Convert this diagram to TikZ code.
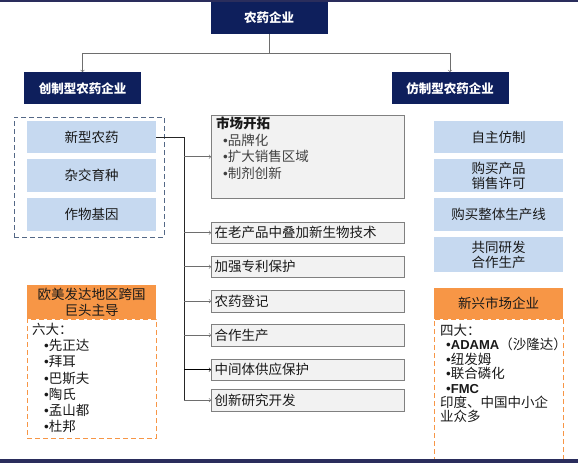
\documentclass[tikz,border=0pt]{standalone}
\usepackage{fontspec}
\setmainfont{Noto Sans CJK SC}
\newfontfamily\latinfont{Liberation Sans}
\usepackage{xcolor}
\usepackage{tikz}
\usetikzlibrary{positioning}

\definecolor{navy}{RGB}{14,31,92}
\definecolor{bandnavy}{RGB}{42,45,92}
\definecolor{paleblue}{RGB}{198,217,240}
\definecolor{boxgray}{RGB}{242,242,242}
\definecolor{edgegray}{RGB}{128,128,128}
\definecolor{linegray}{RGB}{110,110,110}
\definecolor{accentorange}{RGB}{247,150,70}
\definecolor{dashblue}{RGB}{84,104,134}
\definecolor{inkgray}{RGB}{25,25,25}

\newcommand{\sizeat}[2]{\fontsize{#1}{#2}\selectfont}
\newcommand{\dotmark}{{\latinfont•}}

\tikzset{
  navybox/.style={fill=navy, text=white, font=\bfseries\sizeat{12.5}{15},
    minimum width=117pt, minimum height=33pt, inner sep=0pt},
  bluebox/.style={fill=paleblue, text=inkgray, font=\sizeat{13.5}{15},
    minimum width=129pt, align=center, inner sep=0pt, anchor=north west},
  graybox/.style={draw=edgegray, fill=boxgray, text=inkgray, font=\sizeat{13.5}{16},
    minimum width=193pt, text width=186pt, align=left, inner xsep=3.5pt,
    inner ysep=0pt, anchor=north west},
  orangehead/.style={fill=accentorange, text=inkgray, font=\sizeat{13.5}{16},
    minimum width=129pt, align=center, inner sep=0pt, anchor=north west},
  orangedash/.style={draw=accentorange, dash pattern=on 5pt off 3pt,
    minimum width=129pt, inner sep=0pt, anchor=north west},
  listtext/.style={text=inkgray, align=left, inner sep=0pt, anchor=north west},
  conn/.style={draw=linegray, line width=0.6pt},
  branch/.style={draw=linegray, line width=0.6pt, ->},
}

\begin{document}
\begin{tikzpicture}[x=1pt, y=-1pt]
\useasboundingbox (0,0) rectangle (578,463);

% Top level
\node[navybox, minimum height=34pt, anchor=north] (pesticide) at (269,0) {农药企业};
\node[navybox, minimum height=32pt, anchor=north] (original) at (82.5,72) {创制型农药企业};
\node[navybox, minimum height=32pt, anchor=north] (generic) at (450,72) {仿制型农药企业};

\draw[conn, ->] (pesticide.south) -- ++(0,19) -| (original.north);
\draw[conn, ->] (pesticide.south) -- ++(0,19) -| (generic.north);

% Innovation fields
\node[draw=dashblue, dash pattern=on 5pt off 3pt, minimum width=150pt, minimum height=120pt,
  inner sep=0pt, anchor=north west] (fieldbox) at (14,117) {};
\node[bluebox, minimum height=32pt] (newdrug) at (27,121) {新型农药};
\node[bluebox, minimum height=33pt] (hybrid) at (27,159) {杂交育种};
\node[bluebox, minimum height=33pt] (gene) at (27,198) {作物基因};

% Strategies
\node[graybox, minimum height=83pt] (market) at (211,115) {};
\node[listtext, font=\sizeat{13.5}{16.5}] (markettext) at (216,117)
  {\textbf{市场开拓}\\
   {\color{black!75}\hspace*{7pt}\dotmark 品牌化}\\
   {\color{black!75}\hspace*{7pt}\dotmark 扩大销售区域}\\
   {\color{black!75}\hspace*{7pt}\dotmark 制剂创新}};
\node[graybox, minimum height=21pt] (biotech) at (211,222) {在老产品中叠加新生物技术};
\node[graybox, minimum height=21pt] (patent) at (211,256) {加强专利保护};
\node[graybox, minimum height=22pt] (register) at (211,290) {农药登记};
\node[graybox, minimum height=22pt] (coprod) at (211,324) {合作生产};
\node[graybox, minimum height=21pt] (supply) at (211,359) {中间体供应保护};
\node[graybox, minimum height=22pt] (research) at (211,389) {创新研究开发};

\coordinate (trunkend) at (184,400);
\draw[draw=black!85, line width=1pt] (newdrug.east) -| (trunkend);
\draw[branch] (trunkend |- market.west) -- (market.west);
\draw[branch] (trunkend |- biotech.west) -- (biotech.west);
\draw[branch] (trunkend |- patent.west) -- (patent.west);
\draw[branch] (trunkend |- register.west) -- (register.west);
\draw[branch] (trunkend |- coprod.west) -- (coprod.west);
\draw[branch, draw=black] (trunkend |- supply.west) -- (supply.west);
\draw[branch] (trunkend |- research.west) -- (research.west);

% Generic routes
\node[bluebox, minimum height=32pt] (selfcopy) at (434,121) {自主仿制};
\node[bluebox, minimum height=33pt] (license) at (434,159) {购买产品\\销售许可};
\node[bluebox, minimum height=33pt] (line) at (434,198) {购买整体生产线};
\node[bluebox, minimum height=35pt] (joint) at (434,237) {共同研发\\合作生产};

% Leading companies
\node[orangehead, minimum height=34pt] (westhead) at (27,285) {欧美发达地区跨国\\巨头主导};
\node[orangedash, minimum height=119pt] (westbox) at (27,319) {};
\node[listtext, font=\sizeat{13.5}{16.2}] (westlist) at (32,323)
  {六大：\\
   \hspace*{12pt}\dotmark 先正达\\
   \hspace*{12pt}\dotmark 拜耳\\
   \hspace*{12pt}\dotmark 巴斯夫\\
   \hspace*{12pt}\dotmark 陶氏\\
   \hspace*{12pt}\dotmark 孟山都\\
   \hspace*{12pt}\dotmark 杜邦};

\node[orangehead, minimum height=31pt] (emerghead) at (434,288) {新兴市场企业};
\node[orangedash, minimum height=140pt] (emergbox) at (434,319) {};
\node[listtext, font=\sizeat{13.5}{14.4}] (emerglist) at (440,324)
  {四大：\\
   \hspace*{6pt}\dotmark{\latinfont\bfseries\sizeat{13}{14.4}ADAMA}（沙隆达）\\
   \hspace*{6pt}\dotmark 纽发姆\\
   \hspace*{6pt}\dotmark 联合磷化\\
   \hspace*{6pt}\dotmark{\latinfont\bfseries\sizeat{13}{14.4}FMC}\\
   印度、中国中小企\\
   业众多};

% Frame bands
\fill[bandnavy] (0,0) rectangle (578,1.5);
\fill[bandnavy] (0,459) rectangle (578,463);
\end{tikzpicture}
\end{document}
